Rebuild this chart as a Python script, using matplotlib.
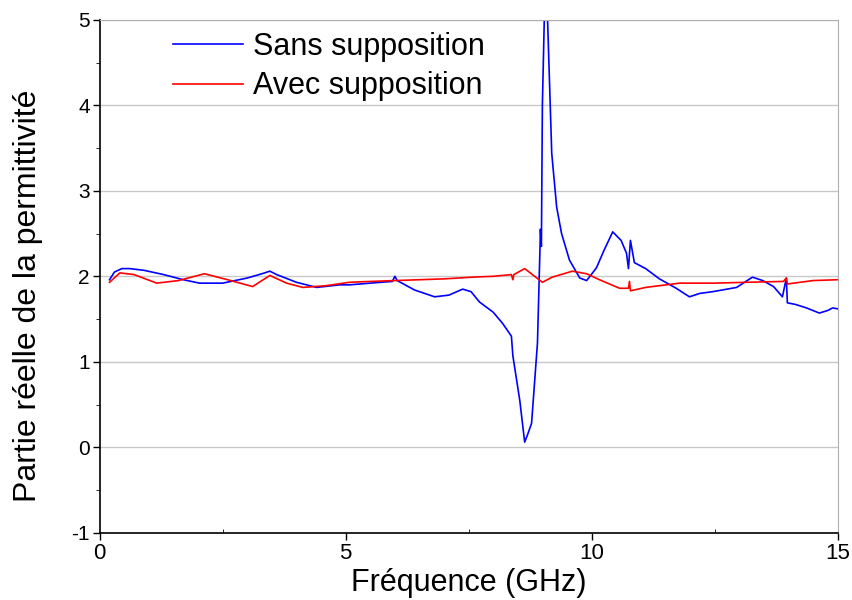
import matplotlib.pyplot as plt
from matplotlib.ticker import MultipleLocator

plt.rcParams['font.family'] = ['Liberation Sans', 'DejaVu Sans']
plt.rcParams['axes.unicode_minus'] = False

# Real part of permittivity vs frequency (GHz)
freq_sans = [0.2, 0.3, 0.45, 0.61, 0.9, 1.3, 1.7, 2.03, 2.5, 3.0, 3.3, 3.46, 3.6,
             4.0, 4.41, 4.88, 5.08, 5.5, 5.95, 6.0, 6.05, 6.4, 6.81, 7.1, 7.38,
             7.55, 7.72, 8.0, 8.19, 8.37, 8.4, 8.54, 8.64, 8.7, 8.78, 8.9, 8.95,
             8.96, 8.98, 9.0, 9.05, 9.1, 9.19, 9.29, 9.39, 9.55, 9.76, 9.9, 10.1,
             10.25, 10.43, 10.6, 10.71, 10.75, 10.79, 10.87, 11.1, 11.38, 11.72,
             11.99, 12.2, 12.46, 12.95, 13.27, 13.48, 13.7, 13.88, 13.96, 13.98,
             14.15, 14.37, 14.63, 14.8, 14.9, 15.0]
eps_sans = [1.96, 2.05, 2.09, 2.09, 2.07, 2.02, 1.96, 1.92, 1.92, 1.98, 2.03, 2.06, 2.02,
            1.93, 1.87, 1.90, 1.90, 1.92, 1.94, 2.00, 1.95, 1.84, 1.76, 1.78, 1.85,
            1.82, 1.70, 1.58, 1.45, 1.30, 1.07, 0.55, 0.06, 0.15, 0.28, 1.22, 2.30,
            2.55, 2.35, 4.0, 5.3, 5.1, 3.44, 2.81, 2.50, 2.19, 1.98, 1.95, 2.10,
            2.30, 2.52, 2.42, 2.27, 2.09, 2.42, 2.16, 2.09, 1.97, 1.86,
            1.76, 1.80, 1.82, 1.87, 1.99, 1.95, 1.88, 1.76, 1.98, 1.69,
            1.67, 1.63, 1.57, 1.60, 1.63, 1.62]

freq_avec = [0.2, 0.41, 0.7, 1.16, 1.6, 2.13, 2.6, 3.11, 3.46, 3.8, 4.13, 4.6,
             5.08, 5.5, 6.0, 7.0, 7.58, 8.0, 8.37, 8.4, 8.42, 8.64, 9.0, 9.2,
             9.61, 9.9, 10.16, 10.57, 10.75, 10.77, 10.79, 11.1, 11.79, 12.5,
             13.15, 13.9, 13.96, 13.98, 14.5, 15.0]
eps_avec = [1.93, 2.04, 2.02, 1.92, 1.95, 2.03, 1.96, 1.88, 2.01, 1.92, 1.87, 1.89,
            1.93, 1.94, 1.95, 1.97, 1.99, 2.00, 2.02, 1.96, 2.02, 2.09, 1.93, 1.99,
            2.06, 2.03, 1.96, 1.86, 1.86, 1.94, 1.83, 1.87, 1.92, 1.92,
            1.93, 1.94, 1.98, 1.91, 1.95, 1.96]

fig, ax = plt.subplots(figsize=(8.52, 6), dpi=100)
fig.subplots_adjust(left=0.117, right=0.983, top=0.967, bottom=0.112)

ax.plot(freq_sans, eps_sans, color='#0000ff', lw=1.2, label='Sans supposition')
ax.plot(freq_avec, eps_avec, color='#ff0000', lw=1.2, label='Avec supposition')

ax.set_xlim(0, 15)
ax.set_ylim(-1, 5)
ax.xaxis.set_major_locator(MultipleLocator(5))
ax.xaxis.set_minor_locator(MultipleLocator(2.5))
ax.yaxis.set_major_locator(MultipleLocator(1))
ax.yaxis.set_minor_locator(MultipleLocator(0.5))
ax.tick_params(axis='both', which='major', direction='out', length=5, width=1,
               labelsize=15, pad=2)
ax.tick_params(axis='x', which='major', labelsize=16)
ax.tick_params(axis='x', which='minor', direction='in', length=3)
ax.tick_params(axis='y', which='minor', direction='out', length=3)

ax.grid(axis='y', which='major', color='#c8c8c8', lw=1)
ax.set_axisbelow(True)
for side in ('top', 'right'):
    ax.spines[side].set_color('#b0b0b0')
for side in ('left', 'bottom'):
    ax.spines[side].set_linewidth(1.2)

ax.set_xlabel('Fréquence (GHz)', fontsize=22, labelpad=3)
ax.set_ylabel('Partie réelle de la permittivité', fontsize=23, labelpad=4)
ax.yaxis.set_label_coords(-0.077, 0.462)

ax.legend(loc='upper left', bbox_to_anchor=(0.099, 0.976), frameon=False,
          fontsize=22, handlelength=2.3, handletextpad=0.33, labelspacing=0.3,
          borderpad=0, borderaxespad=0)

plt.savefig('out.png', dpi=100)
